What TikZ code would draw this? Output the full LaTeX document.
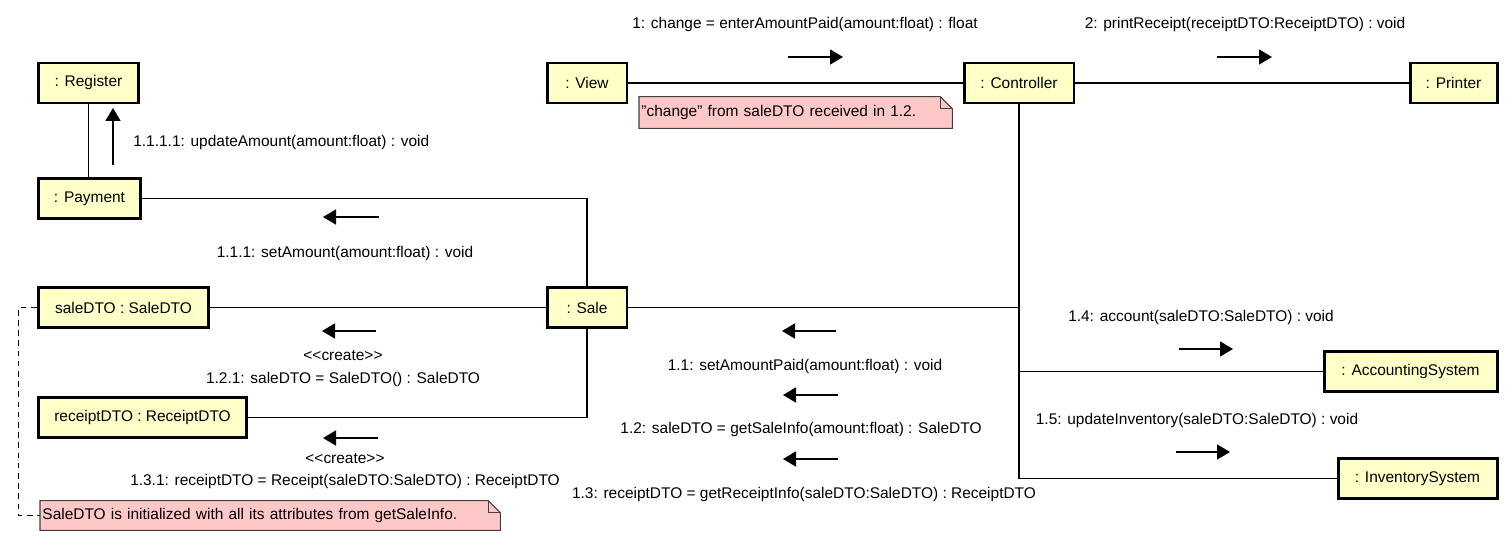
\documentclass[tikz,border=0pt]{standalone}
\usepackage{fontspec}
\setmainfont{Liberation Sans}
\usetikzlibrary{positioning,calc,arrows.meta,backgrounds}
\definecolor{objfill}{RGB}{255,255,200}
\definecolor{notefill}{RGB}{255,200,200}
\newcommand{\umlfont}{\fontsize{8.8}{10.5}\selectfont}
\newcommand{\stereo}[1]{<\kern0pt<#1>\kern0pt>}
\newcommand{\foldnote}[1]{%
	\filldraw[fill=notefill, draw=black!75, line width=0.6pt]
		(#1.south west) |- ([xshift=-0.24cm]#1.north east)
		-- ([yshift=-0.24cm]#1.north east) |- cycle;
	\draw[black!75, line width=0.6pt] ([xshift=-0.24cm]#1.north east)
		|- ([yshift=-0.24cm]#1.north east);}
\tikzset{obj/.style={draw, line width=1.7pt, fill=objfill, minimum height=0.8cm, inner sep=0pt, font=\umlfont}}
\tikzset{link/.style={draw, line width=0.6pt}}
\tikzset{msg/.style={draw, line width=0.9pt, -{Triangle[length=0.26cm,width=0.3cm]}}}
\tikzset{lbl/.style={inner sep=0pt, font=\umlfont}}
\tikzset{twolbl/.style={lbl, align=center, font=\fontsize{8.8}{12.8}\selectfont}}
\tikzset{notebox/.style={inner xsep=1.2pt, inner ysep=0pt, align=left, anchor=west, font=\umlfont}}

\begin{document}
\begin{tikzpicture}[x=0.02cm, y=-0.02cm]
\useasboundingbox (0,0) rectangle (1510,544);
% objects
\node[obj, minimum width=2.02cm] (reg) at (88.5,83) {: Register};
\node[obj, minimum width=2.06cm] (pay) at (89.5,198.5) {: Payment};
\node[obj, minimum width=3.42cm] (sdto) at (123.5,307.5) {saleDTO : SaleDTO};
\node[obj, minimum width=4.18cm] (rdto) at (142.5,417.5) {receiptDTO : ReceiptDTO};
\node[obj, minimum width=1.6cm] (view) at (587,83) {: View};
\node[obj, minimum width=2.2cm] (ctrl) at (1019,83) {: Controller};
\node[obj, minimum width=1.74cm] (prn) at (1453.5,83) {: Printer};
\node[obj, minimum width=1.6cm] (sale) at (587,307.5) {: Sale};
\node[obj, minimum width=3.46cm] (acc) at (1410.5,371.5) {: AccountingSystem};
\node[obj, minimum width=3.18cm] (inv) at (1417.5,478.5) {: InventorySystem};

% notes
\node[notebox, text width=9.11cm, minimum height=0.58cm] (saleNote) at (40,515.5)
	{SaleDTO is initialized with all its attributes from getSaleInfo.};
\node[notebox, text width=6.17cm, minimum height=0.62cm] (changeNote) at (639,112.5)
	{"change" from saleDTO received in 1.2.};
\begin{scope}[on background layer]
	\foldnote{saleNote}
	\foldnote{changeNote}
\end{scope}

% links
\draw[link] (reg.south) -- (reg.south |- pay.north);
\draw[link] (pay.east) -| (sale.north);
\draw[link] (sdto) -- (sale);
\draw[link] (rdto.east) -| (sale.south);
\draw[link] (view) -- (ctrl);
\draw[link] (ctrl) -- (prn);
\draw[link] (ctrl.south) |- (inv.west);
\draw[link] (sale.east) -- (sale.east -| ctrl.south);
\draw[link] (acc.west) -- (acc.west -| ctrl.south);
\draw[link, dash pattern=on 3.2pt off 2.6pt] (sdto.west) -- ++(-18,0) |- (saleNote.west);

% messages
\node[lbl, anchor=west] (m1111) at (133,143) {1.1.1.1: updateAmount(amount:float) : void};
\draw[msg] (113,165) -- (113,108);
\node[lbl] (m111) at (345,253) {1.1.1: setAmount(amount:float) : void};
\draw[msg] (379,217) -- (323,217);
\node[twolbl] (m121) at (343,368.5) {\stereo{create}\\1.2.1: saleDTO = SaleDTO() : SaleDTO};
\draw[msg] (376,331) -- (322,331);
\node[twolbl] (m131) at (345,471) {\stereo{create}\\1.3.1: receiptDTO = Receipt(saleDTO:SaleDTO) : ReceiptDTO};
\draw[msg] (378,438) -- (323,438);

\node[lbl] (m1) at (805,25) {1: change = enterAmountPaid(amount:float) : float};
\draw[msg] (788,57) -- (843,57);
\node[lbl] (m2) at (1245,25) {2: printReceipt(receiptDTO:ReceiptDTO) : void};
\draw[msg] (1217,57) -- (1272,57);

\node[lbl] (m11) at (805,366) {1.1: setAmountPaid(amount:float) : void};
\draw[msg] (836,331) -- (782,331);
\node[lbl] (m12) at (801,429) {1.2: saleDTO = getSaleInfo(amount:float) : SaleDTO};
\draw[msg] (838,395) -- (783,395);
\node[lbl] (m13) at (804,494) {1.3: receiptDTO = getReceiptInfo(saleDTO:SaleDTO) : ReceiptDTO};
\draw[msg] (838,459) -- (783,459);

\node[lbl] (m14) at (1201,317) {1.4: account(saleDTO:SaleDTO) : void};
\draw[msg] (1179,349) -- (1233,349);
\node[lbl] (m15) at (1197,420) {1.5: updateInventory(saleDTO:SaleDTO) : void};
\draw[msg] (1176,452) -- (1230,452);
\end{tikzpicture}
\end{document}
